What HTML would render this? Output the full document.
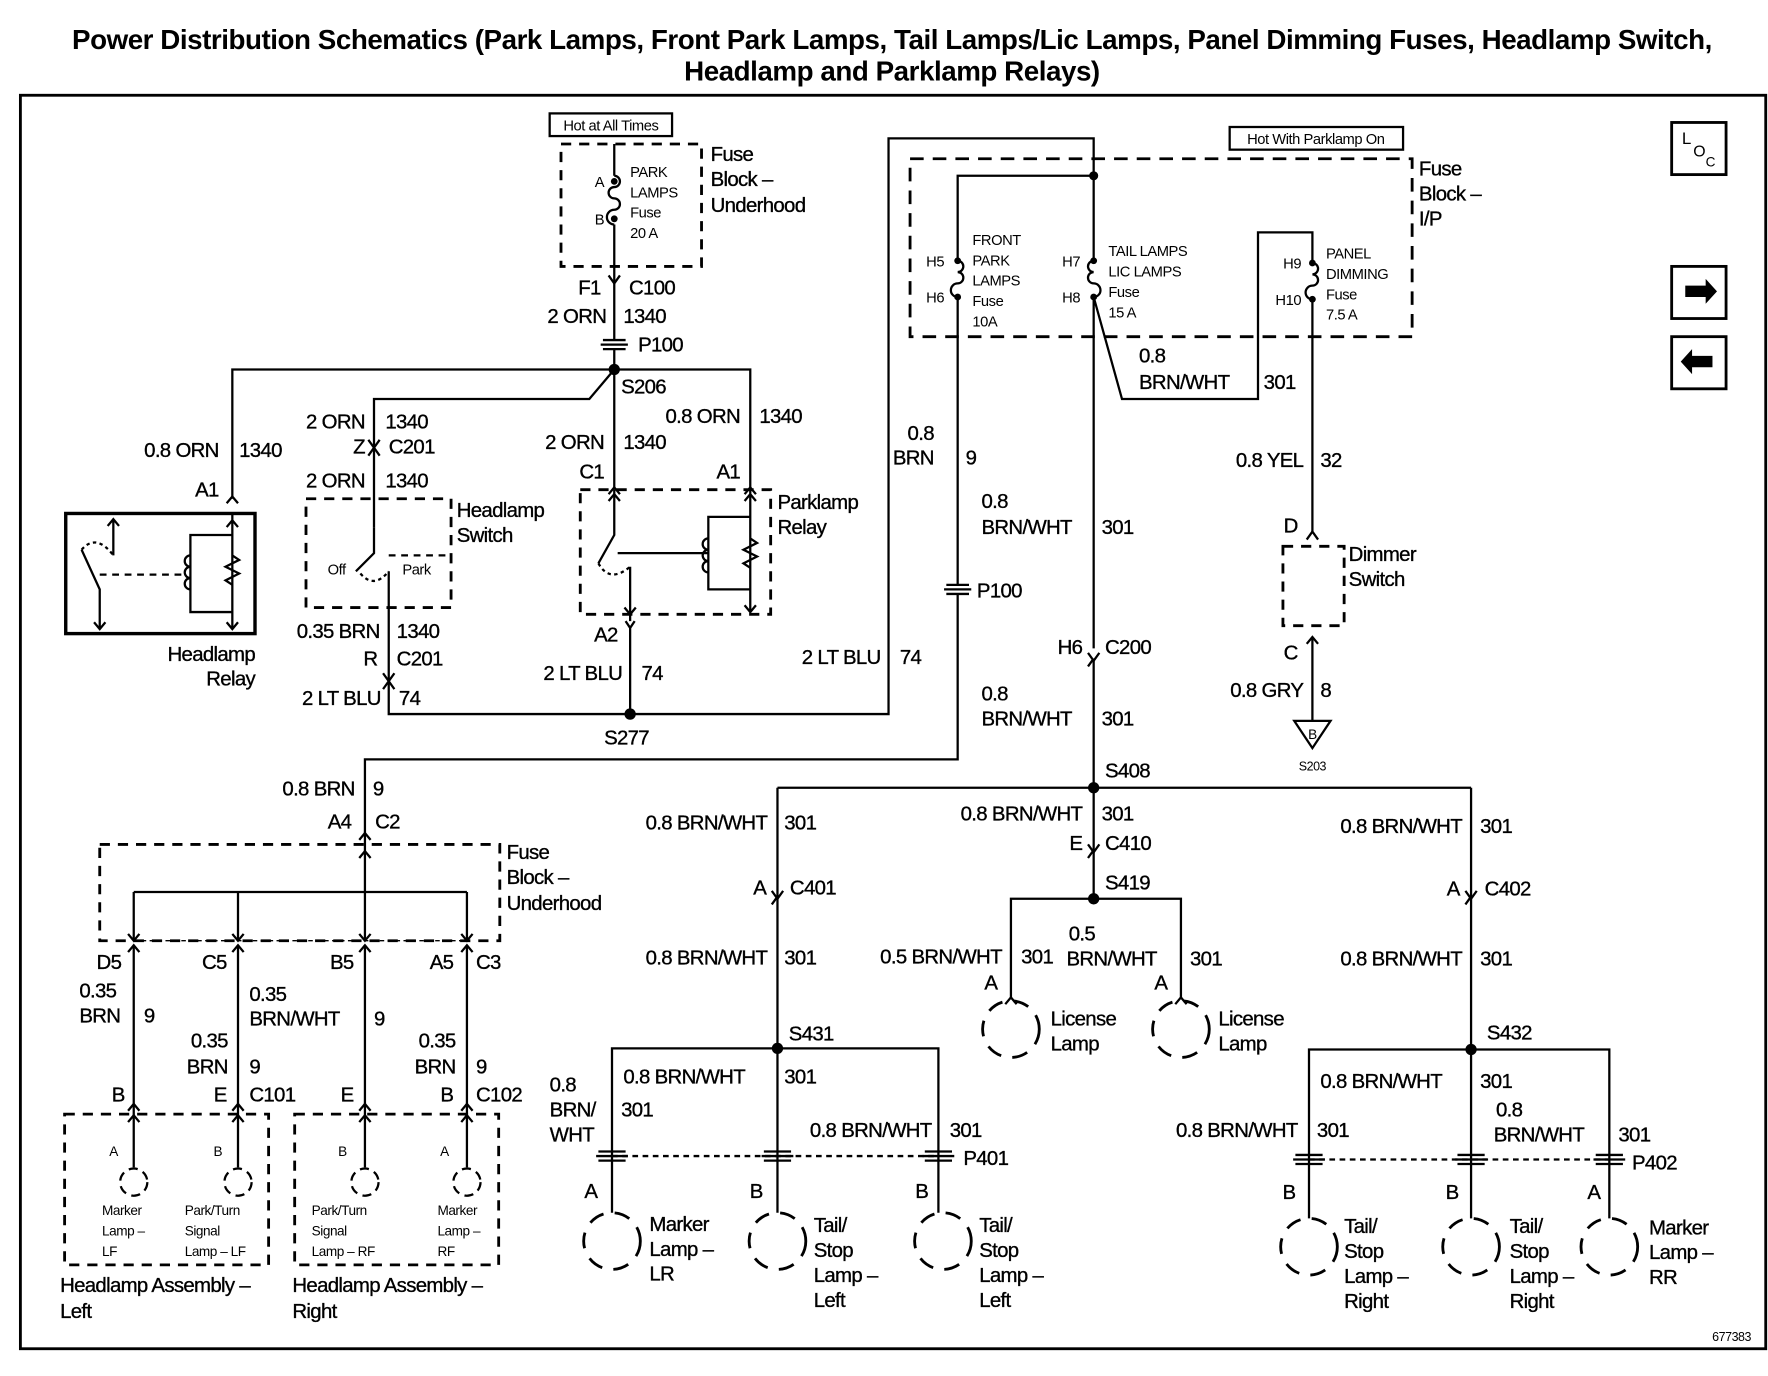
<!DOCTYPE html>
<html><head><meta charset="utf-8"><style>
html,body{margin:0;padding:0;background:#fff;}
svg{display:block;}
text{font-family:"Liberation Sans",Arial,sans-serif;fill:#000;}
.t{font-size:18px;letter-spacing:-0.6px;stroke:#000;stroke-width:0.3px;}
.s{font-size:13px;letter-spacing:-0.4px;}
.xs{font-size:12px;letter-spacing:-0.4px;}
.e{text-anchor:end;}
</style></head><body>
<svg width="1768" height="1376" viewBox="0 0 1560 1214" xmlns="http://www.w3.org/2000/svg">
<g fill="none" stroke="#000" stroke-width="2">
<rect x="18" y="84" width="1540" height="1106" stroke-width="2.5"/>
<rect x="485" y="100" width="108" height="20"/>
<rect x="495" y="127" width="124" height="108" stroke-dasharray="9,7" stroke-width="2.5"/>
<path d="M542 127 V155 M542 198 V300 M542 308 V432"/>
<path d="M542 155 a5 5 0 0 1 0 10 a5 5 0 0 0 0 10 a5 5 0 0 1 0 10 a5 5 0 0 0 0 13"/>
<path d="M537 243 L542 250 L547 243"/>
<path d="M205 440 V326 H662 V430 M542 326 L520 352 H330 V465"/>
<path d="M325 388 L330 395 L335 388 M325 402 L330 395 L335 402"/>
<path d="M200 444 L205 438 L210 444"/>
<path d="M537 436 L542 430 L547 436 M657 436 L662 430 L667 436"/>
<rect x="58" y="453" width="167" height="106" stroke-width="3"/>
<path d="M205 453 V555 M200 465 L205 459 L210 465 M200 549 L205 555 L210 549"/>
<path d="M100 458 V490 M95 464 L100 458 L105 464"/>
<path d="M72 485 L88 520 V555 M83 549 L88 555 L93 549"/>
<path d="M72 485 Q85 470 100 490" stroke-dasharray="3,3"/>
<path d="M88 507 H165" stroke-dasharray="6,5"/>
<path d="M205 472 H168 V540 H205"/>
<path d="M168 490 a5 5 0 0 0 0 10 a5 5 0 0 0 0 10 a5 5 0 0 0 0 10"/>
<path d="M205 490 l6 4 l-12 6 l12 6 l-12 6 l6 4"/>
<rect x="270" y="440" width="128" height="96" stroke-dasharray="9,7" stroke-width="2.5"/>
<path d="M330 465 V488 L314 504"/>
<path d="M318 506 Q330 520 343 504" stroke-dasharray="3,3"/>
<path d="M343 504 V630 H784 V122 H965 V155"/>
<path d="M343 490 H398" stroke-dasharray="6,5"/>
<path d="M338 594 L343 601 L348 594 M338 608 L343 601 L348 608"/>
<rect x="512" y="432" width="168" height="110" stroke-dasharray="9,7" stroke-width="2.5"/>
<path d="M542 432 V472 L528 497 M556 500 V548 M551 536 L556 542 L561 536 M552 548 L556 554 L560 548 M556 554 V630"/>
<path d="M528 497 Q538 515 556 500" stroke-dasharray="3,3"/>
<path d="M537 442 L542 436 L547 442"/>
<path d="M662 430 V540 M657 442 L662 436 L667 442 M657 534 L662 540 L667 534"/>
<path d="M662 456 H625 V520 H662 M545 488 H625" />
<path d="M625 475 a5 5 0 0 0 0 10 a5 5 0 0 0 0 10 a5 5 0 0 0 0 10"/>
<path d="M662 475 l6 4 l-12 6 l12 6 l-12 6 l6 4"/>
<rect x="1085" y="112" width="153" height="20"/>
<rect x="803" y="140" width="443" height="157" stroke-dasharray="12,8" stroke-width="2.5"/>
<path d="M845 230 V155 H965 V230 M845 262 V516 M845 524 V670 H322 V735"/>
<path d="M845 230 a5 5 0 0 1 0 10 a5 5 0 0 1 0 10 a5 5 0 0 0 0 12"/>
<path d="M965 230 a5 5 0 0 0 0 10 a5 5 0 0 0 0 10 a5 5 0 0 1 0 12"/>
<path d="M965 262 V572 M965 582 V695 M965 262 L990 352 H1110 V205 H1158 V232"/>
<path d="M1158 232 a5 5 0 0 1 0 10 a5 5 0 0 1 0 10 a5 5 0 0 0 0 12 V470"/>
<path d="M960 576 L965 583 L970 576 M960 588 L965 581"/>
<path d="M1153 476 L1158 469 L1163 476"/>
<rect x="1132" y="482" width="54" height="70" stroke-dasharray="9,7" stroke-width="2.5"/>
<path d="M1158 562 V636 M1153 568 L1158 562 L1163 568"/>
<path d="M1142 636 H1174 L1158 660 Z"/>
<path d="M532 300 h20 M530 304 h24 M532 308 h20"/>
<path d="M835 516 h20 M833 520 h24 M835 524 h20"/>
<path d="M686 695 H1298 M686 695 V925 M965 695 V793 M1298 695 V926"/>
<path d="M681 786 L686 793 L691 786 M681 798 L686 791"/>
<path d="M960 745 L965 752 L970 745 M960 757 L965 750"/>
<path d="M1293 786 L1298 793 L1303 786 M1293 798 L1298 791"/>
<path d="M892 880 V793 H1042 V880"/>
<circle cx="892" cy="908" r="25" stroke-dasharray="14,10" stroke-width="2.5"/>
<circle cx="1042" cy="908" r="25" stroke-dasharray="14,10" stroke-width="2.5"/>
<path d="M887 886 L892 880 L897 886 M1037 886 L1042 880 L1047 886"/>
<path d="M540 1070 V925 H828 V1070 M686 925 V1070"/>
<path d="M540 1020 H828" stroke-dasharray="5,4"/>
<path d="M528 1016 h24 M526 1020 h28 M528 1024 h24 M674 1016 h24 M672 1020 h28 M674 1024 h24 M816 1016 h24 M814 1020 h28 M816 1024 h24"/>
<circle cx="540" cy="1095" r="25" stroke-dasharray="14,10" stroke-width="2.5"/>
<circle cx="686" cy="1095" r="25" stroke-dasharray="14,10" stroke-width="2.5"/>
<circle cx="832" cy="1095" r="25" stroke-dasharray="14,10" stroke-width="2.5"/>
<path d="M1155 1075 V926 H1420 V1075 M1298 926 V1075"/>
<path d="M1155 1023 H1420" stroke-dasharray="5,4"/>
<path d="M1143 1019 h24 M1141 1023 h28 M1143 1027 h24 M1286 1019 h24 M1284 1023 h28 M1286 1027 h24 M1408 1019 h24 M1406 1023 h28 M1408 1027 h24"/>
<circle cx="1155" cy="1100" r="25" stroke-dasharray="14,10" stroke-width="2.5"/>
<circle cx="1298" cy="1100" r="25" stroke-dasharray="14,10" stroke-width="2.5"/>
<circle cx="1420" cy="1100" r="25" stroke-dasharray="14,10" stroke-width="2.5"/>
<path d="M317 741 L322 735 L327 741"/>
<rect x="88" y="745" width="353" height="85" stroke-dasharray="9,7" stroke-width="2.5"/>
<path d="M322 735 V830 M118 787 H412 M118 787 V830 M210 787 V830 M412 787 V830"/>
<path d="M317 757 L322 751 L327 757 M113 824 L118 830 L123 824 M205 824 L210 830 L215 824 M317 824 L322 830 L327 824 M407 824 L412 830 L417 824"/>
<path d="M118 830 H412" stroke-dasharray="4,3" stroke-width="1.2"/>
<path d="M113 840 L118 834 L123 840 M205 840 L210 834 L215 840 M317 840 L322 834 L327 840 M407 840 L412 834 L417 840"/>
<path d="M118 834 V1030 M210 834 V1030 M322 834 V1030 M412 834 V1030"/>
<path d="M113 980 L118 974 L123 980 M205 980 L210 974 L215 980 M317 980 L322 974 L327 980 M407 980 L412 974 L417 980"/>
<path d="M113 990 L118 984 L123 990 M205 990 L210 984 L215 990 M317 990 L322 984 L327 990 M407 990 L412 984 L417 990"/>
<rect x="57" y="983" width="180" height="133" stroke-dasharray="9,7" stroke-width="2.5"/>
<rect x="260" y="983" width="180" height="133" stroke-dasharray="9,7" stroke-width="2.5"/>
<circle cx="118" cy="1043" r="12" stroke-dasharray="8,5"/>
<circle cx="210" cy="1043" r="12" stroke-dasharray="8,5"/>
<circle cx="322" cy="1043" r="12" stroke-dasharray="8,5"/>
<circle cx="412" cy="1043" r="12" stroke-dasharray="8,5"/>
<rect x="1475" y="108" width="48" height="46" stroke-width="2.5"/>
<rect x="1475" y="235" width="48" height="46" stroke-width="2.5"/>
<rect x="1475" y="297" width="48" height="46" stroke-width="2.5"/>
</g>
<g fill="#000">
<circle cx="542" cy="326" r="5"/><circle cx="556" cy="630" r="5"/>
<circle cx="965" cy="155" r="4"/><circle cx="965" cy="695" r="5"/>
<circle cx="965" cy="793" r="5"/><circle cx="686" cy="925" r="5"/><circle cx="1298" cy="926" r="5"/>
<circle cx="542" cy="160" r="3"/><circle cx="542" cy="193" r="3"/>
<circle cx="845" cy="230" r="3"/><circle cx="845" cy="262" r="3"/>
<circle cx="965" cy="230" r="3"/><circle cx="965" cy="262" r="3"/>
<circle cx="1158" cy="232" r="3"/><circle cx="1158" cy="264" r="3"/>
<path d="M1487 252 h18 v-6 l10 11 l-10 11 v-6 h-18 z"/>
<path d="M1511 314 h-18 v-6 l-10 11 l10 11 v-6 h18 z"/>
</g>
<text x="787" y="43" text-anchor="middle" style="font-size:24.5px;font-weight:bold;letter-spacing:-0.4px">Power Distribution Schematics (Park Lamps, Front Park Lamps, Tail Lamps/Lic Lamps, Panel Dimming Fuses, Headlamp Switch,</text>
<text x="787" y="71" text-anchor="middle" style="font-size:24.5px;font-weight:bold;letter-spacing:-0.4px">Headlamp and Parklamp Relays)</text>
<text x="539" y="115" text-anchor="middle" class="s">Hot at All Times</text>
<text x="1161" y="127" text-anchor="middle" class="s">Hot With Parklamp On</text>
<text x="1484" y="127" style="font-size:15px">L</text><text x="1494" y="138" style="font-size:14px">O</text><text x="1505" y="147" style="font-size:12px">C</text>
<g class="s">
<text x="556" y="156">PARK</text><text x="556" y="174">LAMPS</text><text x="556" y="192">Fuse</text><text x="556" y="210">20 A</text>
<text x="533" y="165" class="e">A</text><text x="533" y="198" class="e">B</text>
<text x="858" y="216">FRONT</text><text x="858" y="234">PARK</text><text x="858" y="252">LAMPS</text><text x="858" y="270">Fuse</text><text x="858" y="288">10A</text>
<text x="833" y="235" class="e">H5</text><text x="833" y="267" class="e">H6</text>
<text x="978" y="226">TAIL LAMPS</text><text x="978" y="244">LIC LAMPS</text><text x="978" y="262">Fuse</text><text x="978" y="280">15 A</text>
<text x="953" y="235" class="e">H7</text><text x="953" y="267" class="e">H8</text>
<text x="1170" y="228">PANEL</text><text x="1170" y="246">DIMMING</text><text x="1170" y="264">Fuse</text><text x="1170" y="282">7.5 A</text>
<text x="1148" y="237" class="e">H9</text><text x="1148" y="269" class="e">H10</text>
<text x="297" y="507" text-anchor="middle">Off</text><text x="355" y="507">Park</text>
</g>
<g class="t">
<text x="627" y="142">Fuse</text><text x="627" y="164">Block –</text><text x="627" y="187">Underhood</text>
<text x="530" y="260" class="e">F1</text><text x="555" y="260">C100</text>
<text x="535" y="285" class="e">2 ORN</text><text x="550" y="285">1340</text>
<text x="563" y="310">P100</text><text x="548" y="347">S206</text>
<text x="322" y="378" class="e">2 ORN</text><text x="340" y="378">1340</text>
<text x="322" y="400" class="e">Z</text><text x="343" y="400">C201</text>
<text x="322" y="430" class="e">2 ORN</text><text x="340" y="430">1340</text>
<text x="193" y="403" class="e">0.8 ORN</text><text x="211" y="403">1340</text>
<text x="193" y="438" class="e">A1</text>
<text x="533" y="396" class="e">2 ORN</text><text x="550" y="396">1340</text>
<text x="533" y="422" class="e">C1</text>
<text x="653" y="373" class="e">0.8 ORN</text><text x="670" y="373">1340</text>
<text x="653" y="422" class="e">A1</text>
<text x="225" y="583" class="e">Headlamp</text><text x="225" y="605" class="e">Relay</text>
<text x="403" y="456">Headlamp</text><text x="403" y="478">Switch</text>
<text x="335" y="563" class="e">0.35 BRN</text><text x="350" y="563">1340</text>
<text x="333" y="587" class="e">R</text><text x="350" y="587">C201</text>
<text x="336" y="622" class="e">2 LT BLU</text><text x="352" y="622">74</text>
<text x="686" y="449">Parklamp</text><text x="686" y="471">Relay</text>
<text x="545" y="566" class="e">A2</text>
<text x="549" y="600" class="e">2 LT BLU</text><text x="566" y="600">74</text>
<text x="533" y="657">S277</text>
<text x="777" y="586" class="e">2 LT BLU</text><text x="794" y="586">74</text>
<text x="1252" y="155">Fuse</text><text x="1252" y="177">Block –</text><text x="1252" y="199">I/P</text>
<text x="1005" y="320">0.8</text><text x="1005" y="343">BRN/WHT</text><text x="1115" y="343">301</text>
<text x="824" y="388" class="e">0.8</text><text x="824" y="410" class="e">BRN</text><text x="852" y="410">9</text>
<text x="862" y="527">P100</text>
<text x="866" y="448">0.8</text><text x="866" y="471">BRN/WHT</text><text x="972" y="471">301</text>
<text x="955" y="577" class="e">H6</text><text x="975" y="577">C200</text>
<text x="866" y="618">0.8</text><text x="866" y="640">BRN/WHT</text><text x="972" y="640">301</text>
<text x="975" y="686">S408</text>
<text x="1150" y="412" class="e">0.8 YEL</text><text x="1165" y="412">32</text>
<text x="1145" y="470" class="e">D</text>
<text x="1190" y="495">Dimmer</text><text x="1190" y="517">Switch</text>
<text x="1145" y="582" class="e">C</text>
<text x="1150" y="615" class="e">0.8 GRY</text><text x="1165" y="615">8</text>
<text x="677" y="732" class="e">0.8 BRN/WHT</text><text x="692" y="732">301</text>
<text x="676" y="789" class="e">A</text><text x="697" y="789">C401</text>
<text x="677" y="851" class="e">0.8 BRN/WHT</text><text x="692" y="851">301</text>
<text x="696" y="918">S431</text>
<text x="955" y="724" class="e">0.8 BRN/WHT</text><text x="972" y="724">301</text>
<text x="955" y="750" class="e">E</text><text x="975" y="750">C410</text>
<text x="975" y="785">S419</text>
<text x="884" y="850" class="e">0.5 BRN/WHT</text><text x="901" y="850">301</text>
<text x="943" y="830">0.5</text><text x="941" y="852">BRN/WHT</text><text x="1050" y="852">301</text>
<text x="880" y="873" class="e">A</text><text x="1030" y="873" class="e">A</text>
<text x="927" y="905">License</text><text x="927" y="927">Lamp</text>
<text x="1075" y="905">License</text><text x="1075" y="927">Lamp</text>
<text x="1290" y="735" class="e">0.8 BRN/WHT</text><text x="1306" y="735">301</text>
<text x="1288" y="790" class="e">A</text><text x="1310" y="790">C402</text>
<text x="1290" y="852" class="e">0.8 BRN/WHT</text><text x="1306" y="852">301</text>
<text x="1312" y="917">S432</text>
<text x="485" y="963">0.8</text><text x="485" y="985">BRN/</text><text x="485" y="1007">WHT</text><text x="548" y="985">301</text>
<text x="550" y="956">0.8 BRN/WHT</text><text x="692" y="956">301</text>
<text x="822" y="1003" class="e">0.8 BRN/WHT</text><text x="838" y="1003">301</text>
<text x="850" y="1028">P401</text>
<text x="527" y="1057" class="e">A</text><text x="673" y="1057" class="e">B</text><text x="819" y="1057" class="e">B</text>
<text x="573" y="1086">Marker</text><text x="573" y="1108">Lamp –</text><text x="573" y="1130">LR</text>
<text x="718" y="1087">Tail/</text><text x="718" y="1109">Stop</text><text x="718" y="1131">Lamp –</text><text x="718" y="1153">Left</text>
<text x="864" y="1087">Tail/</text><text x="864" y="1109">Stop</text><text x="864" y="1131">Lamp –</text><text x="864" y="1153">Left</text>
<text x="1165" y="960">0.8 BRN/WHT</text><text x="1306" y="960">301</text>
<text x="1320" y="985">0.8</text><text x="1318" y="1007">BRN/WHT</text><text x="1428" y="1007">301</text>
<text x="1145" y="1003" class="e">0.8 BRN/WHT</text><text x="1162" y="1003">301</text>
<text x="1440" y="1032">P402</text>
<text x="1143" y="1058" class="e">B</text><text x="1287" y="1058" class="e">B</text><text x="1412" y="1058" class="e">A</text>
<text x="1186" y="1088">Tail/</text><text x="1186" y="1110">Stop</text><text x="1186" y="1132">Lamp –</text><text x="1186" y="1154">Right</text>
<text x="1332" y="1088">Tail/</text><text x="1332" y="1110">Stop</text><text x="1332" y="1132">Lamp –</text><text x="1332" y="1154">Right</text>
<text x="1455" y="1089">Marker</text><text x="1455" y="1111">Lamp –</text><text x="1455" y="1133">RR</text>
<text x="313" y="702" class="e">0.8 BRN</text><text x="329" y="702">9</text>
<text x="310" y="731" class="e">A4</text><text x="331" y="731">C2</text>
<text x="447" y="758">Fuse</text><text x="447" y="780">Block –</text><text x="447" y="803">Underhood</text>
<text x="107" y="855" class="e">D5</text><text x="200" y="855" class="e">C5</text><text x="312" y="855" class="e">B5</text><text x="400" y="855" class="e">A5</text><text x="420" y="855">C3</text>
<text x="70" y="880">0.35</text><text x="70" y="902">BRN</text><text x="127" y="902">9</text>
<text x="220" y="883">0.35</text><text x="220" y="905">BRN/WHT</text><text x="330" y="905">9</text>
<text x="201" y="924" class="e">0.35</text><text x="201" y="947" class="e">BRN</text><text x="220" y="947">9</text>
<text x="402" y="924" class="e">0.35</text><text x="402" y="947" class="e">BRN</text><text x="420" y="947">9</text>
<text x="110" y="972" class="e">B</text><text x="200" y="972" class="e">E</text><text x="220" y="972">C101</text>
<text x="312" y="972" class="e">E</text><text x="400" y="972" class="e">B</text><text x="420" y="972">C102</text>
<text x="53" y="1140">Headlamp Assembly –</text><text x="53" y="1163">Left</text>
<text x="258" y="1140">Headlamp Assembly –</text><text x="258" y="1163">Right</text>
</g>
<g class="xs">
<text x="104" y="1020" class="e">A</text><text x="196" y="1020" class="e">B</text><text x="306" y="1020" class="e">B</text><text x="396" y="1020" class="e">A</text>
<text x="90" y="1072">Marker</text><text x="90" y="1090">Lamp –</text><text x="90" y="1108">LF</text>
<text x="163" y="1072">Park/Turn</text><text x="163" y="1090">Signal</text><text x="163" y="1108">Lamp – LF</text>
<text x="275" y="1072">Park/Turn</text><text x="275" y="1090">Signal</text><text x="275" y="1108">Lamp – RF</text>
<text x="386" y="1072">Marker</text><text x="386" y="1090">Lamp –</text><text x="386" y="1108">RF</text>
<text x="1158" y="652" text-anchor="middle">B</text>
<text x="1158" y="680" text-anchor="middle" style="font-size:11px">S203</text>
<text x="1545" y="1183" class="e" style="font-size:11px">677383</text>
</g>
</svg>
</body></html>
